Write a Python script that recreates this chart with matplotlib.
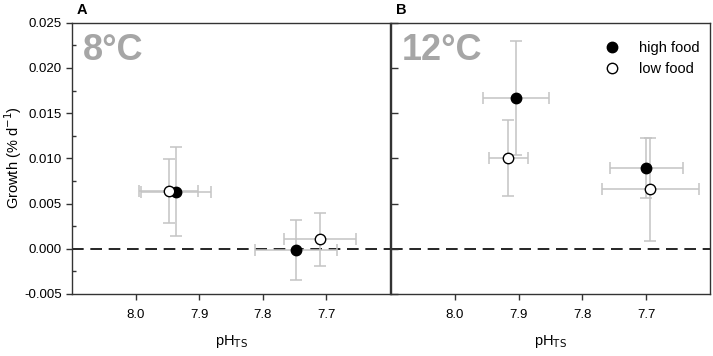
import numpy as np
import matplotlib
matplotlib.use("Agg")
import matplotlib.pyplot as plt
from matplotlib.ticker import MultipleLocator
from matplotlib.lines import Line2D

plt.rcParams['font.family'] = ['Liberation Sans', 'DejaVu Sans']

# --- data ---
# 8 degC panel
ph8_high = [7.936, 7.748]
ph8_high_err = [0.055, 0.064]
g8_high = [0.0063, -0.00016]
g8_high_err = [0.0049, 0.0033]

ph8_low = [7.948, 7.710]
ph8_low_err = [0.046, 0.056]
g8_low = [0.0064, 0.00103]
g8_low_err = [0.0035, 0.0029]

# 12 degC panel
ph12_high = [7.904, 7.700]
ph12_high_err = [0.052, 0.057]
g12_high = [0.0167, 0.0089]
g12_high_err = [0.0063, 0.0033]

ph12_low = [7.916, 7.694]
ph12_low_err = [0.031, 0.076]
g12_low = [0.0100, 0.00656]
g12_low_err = [0.0042, 0.0057]

xticks = [8.0, 7.9, 7.8, 7.7]
yticks = [-0.005, 0.000, 0.005, 0.010, 0.015, 0.020, 0.025]

ERR_COLOR = '#c4c4c4'
SPINE = '#333333'

fig = plt.figure(figsize=(7.13, 3.56), dpi=100)
axA = fig.add_axes([72/713, 62/356, 318/713, 271.3/356])
axB = fig.add_axes([391/713, 62/356, 319/713, 271.3/356])


def panel(ax, ph_hi, phe_hi, g_hi, ge_hi, ph_lo, phe_lo, g_lo, ge_lo):
    for x, xe, y, ye in [(ph_hi, phe_hi, g_hi, ge_hi), (ph_lo, phe_lo, g_lo, ge_lo)]:
        ax.errorbar(x, y, xerr=xe, yerr=ye, fmt='none', ecolor=ERR_COLOR,
                    elinewidth=1.1, capsize=4.5, capthick=1.1, zorder=2)
    ax.plot(ph_hi, g_hi, 'o', ms=7.5, mfc='black', mec='black', mew=1, zorder=4)
    ax.plot(ph_lo, g_lo, 'o', ms=7.5, mfc='white', mec='black', mew=1, zorder=4)
    ax.axhline(0, color='black', lw=1.2, ls=(0, (7, 4)), zorder=1)
    ax.set_xlim(8.1, 7.6)
    ax.set_ylim(-0.005, 0.025)
    ax.set_xticks(xticks)
    ax.set_xticklabels([f"{t:.1f}" for t in xticks])
    ax.set_yticks(yticks)
    ax.yaxis.set_minor_locator(MultipleLocator(0.0025))
    ax.tick_params(axis='x', direction='out', length=4, width=1, colors=SPINE,
                   labelsize=9.5, labelcolor='black', pad=7)
    for s in ax.spines.values():
        s.set_color(SPINE)
        s.set_linewidth(1.0)


panel(axA, ph8_high, ph8_high_err, g8_high, g8_high_err,
      ph8_low, ph8_low_err, g8_low, g8_low_err)
panel(axB, ph12_high, ph12_high_err, g12_high, g12_high_err,
      ph12_low, ph12_low_err, g12_low, g12_low_err)

axA.set_yticklabels([f"{t:.3f}" for t in yticks])
axA.tick_params(axis='y', which='major', direction='out', length=4, width=1,
                colors=SPINE, labelsize=9.5, labelcolor='black')
axA.tick_params(axis='y', which='minor', direction='in', length=3, width=1, colors=SPINE)

axB.tick_params(axis='y', which='major', direction='in', length=5, width=1,
                colors=SPINE, labelleft=False)
axB.tick_params(axis='y', which='minor', left=False)

# axis titles placed in figure pixels
fig.text(13/713, 1 - 158/356, "Growth (% d$^{-1}$)", fontsize=10.5, rotation=90,
         va='center', ha='center')
fig.text(231/713, 1 - 342/356, "pH$_{\\mathrm{TS}}$", fontsize=10.5, va='center', ha='center')
fig.text(550/713, 1 - 342/356, "pH$_{\\mathrm{TS}}$", fontsize=10.5, va='center', ha='center')

axA.text(0.035, 0.898, "8°C", transform=axA.transAxes, fontsize=26,
         fontweight='bold', color='#a6a6a6', va='center', ha='left')
axB.text(0.033, 0.898, "12°C", transform=axB.transAxes, fontsize=26,
         fontweight='bold', color='#a6a6a6', va='center', ha='left')

fig.text(77/713, 1 - 10/356, "A", fontsize=10.5, fontweight='bold', va='center', ha='left')
fig.text(396/713, 1 - 10/356, "B", fontsize=10.5, fontweight='bold', va='center', ha='left')

handles = [Line2D([], [], ls='none', marker='o', ms=7.5, mfc='black', mec='black'),
           Line2D([], [], ls='none', marker='o', ms=7.5, mfc='white', mec='black')]
axB.legend(handles, ["high food", "low food"], loc='upper right', frameon=False,
           fontsize=10.5, handletextpad=0.9, labelspacing=0.45,
           bbox_to_anchor=(1.01, 0.98))

fig.savefig("out.png", dpi=100)
